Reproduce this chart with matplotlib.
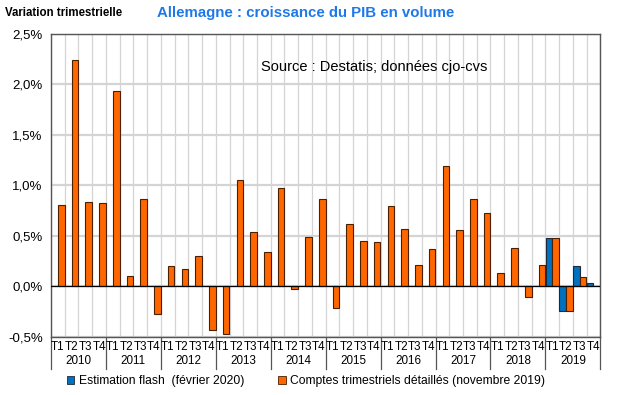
import numpy as np
import matplotlib.pyplot as plt
from matplotlib.patches import Patch
from matplotlib.ticker import FuncFormatter

plt.rcParams['font.family'] = ['Liberation Sans', 'DejaVu Sans']

# data
years = ["2010", "2011", "2012", "2013", "2014", "2015", "2016", "2017", "2018", "2019"]
quarters = ["T1", "T2", "T3", "T4"]

# Comptes trimestriels détaillés (novembre 2019), % q/q
detailed = [0.80, 2.24, 0.83, 0.82,
            1.93, 0.10, 0.86, -0.27,
            0.20, 0.17, 0.30, -0.43,
            -0.47, 1.05, 0.54, 0.34,
            0.97, -0.03, 0.49, 0.86,
            -0.21, 0.62, 0.45, 0.44,
            0.79, 0.57, 0.21, 0.37,
            1.19, 0.56, 0.86, 0.73,
            0.13, 0.38, -0.11, 0.21,
            0.48, -0.24, 0.09, np.nan]

# Estimation flash (février 2020), only 2019
flash = [np.nan] * 36 + [0.48, -0.24, 0.20, 0.03]

ORANGE = "#FF6600"
BLUE = "#0070C0"

n = len(detailed)
x = np.arange(n)

fig = plt.figure(figsize=(6.2, 3.95), dpi=100)
ax = fig.add_axes([0.0823, 0.147, 0.886, 0.768])

ax.bar(x - 0.25, flash, width=0.48, color=BLUE, edgecolor="#1a2a3a", linewidth=0.8, zorder=3)
ax.bar(x + 0.25, detailed, width=0.48, color=ORANGE, edgecolor="#4a2000", linewidth=0.8, zorder=3)

ax.set_xlim(-0.5, n - 0.5)
ax.set_ylim(-0.5, 2.5)
ax.set_yticks(np.arange(-0.5, 2.51, 0.5))
ax.yaxis.set_major_formatter(FuncFormatter(lambda v, p: f"{v:.1f}%".replace(".", ",")))
ax.tick_params(axis="y", length=0, labelsize=9.5, pad=6)

# vertical grid between quarters
ax.set_xticks(np.arange(-0.5, n, 1), minor=True)
ax.set_xticks([])
ax.tick_params(axis="x", which="both", length=0)
ax.grid(True, which="minor", axis="x", color="#d4d4d4", linewidth=0.9, zorder=0)
ax.grid(True, which="major", axis="y", color="#d4d4d4", linewidth=1.6, zorder=0)
ax.axhline(0, color="black", linewidth=0.9, zorder=4)

for s in ax.spines.values():
    s.set_color("#555555")
    s.set_linewidth(1.0)

# x labels: quarters and years
trans = ax.get_xaxis_transform()
for i in range(n):
    ax.text(x[i], -0.012, quarters[i % 4], transform=trans, ha="center", va="top", fontsize=8.4)
for k, yr in enumerate(years):
    ax.text(4 * k + 1.5, -0.06, yr, transform=trans, ha="center", va="top", fontsize=8.4)
for k in range(len(years) + 1):
    ax.plot([4 * k - 0.5] * 2, [0, -0.105], transform=trans, color="#555555",
            linewidth=0.9, clip_on=False)

ax.text(0.382, 0.89, "Source : Destatis; données cjo-cvs", transform=ax.transAxes,
        fontsize=10.5, ha="left", va="center")

fig.text(0.008, 0.968, "Variation trimestrielle", fontsize=8.3, fontweight="bold",
         ha="left", va="center")
fig.text(0.253, 0.966, "Allemagne : croissance du PIB en volume", fontsize=10.8,
         fontweight="bold", color="#1F78E8", ha="left", va="center")

handles = [Patch(facecolor=BLUE, edgecolor="#1a2a3a", linewidth=0.6),
           Patch(facecolor=ORANGE, edgecolor="#4a2000", linewidth=0.6)]
fig.legend(handles, ["Estimation flash  (février 2020)",
                     "Comptes trimestriels détaillés (novembre 2019)"],
           loc="center", bbox_to_anchor=(0.494, 0.035), ncol=2, frameon=False,
           fontsize=8.7, handlelength=0.6, handleheight=0.6, handletextpad=0.4,
           columnspacing=2.8)

fig.savefig("out.png", dpi=100)
